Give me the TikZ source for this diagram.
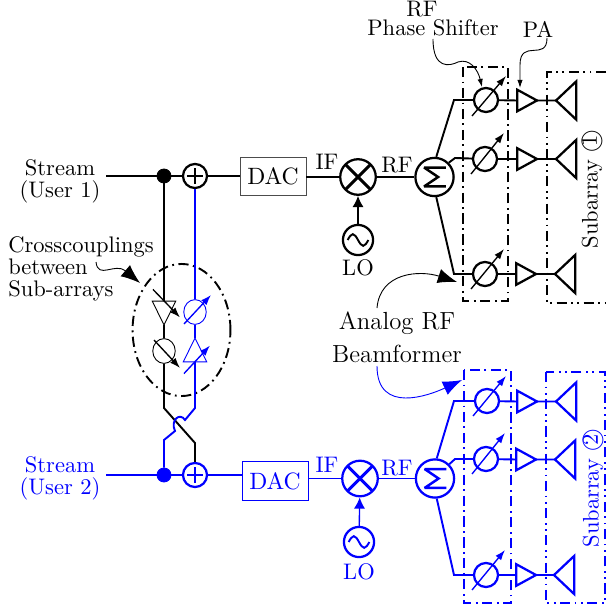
\documentclass[tikz,border=0pt]{standalone}
\usepackage{amssymb}
\usetikzlibrary{arrows.meta,shapes.geometric}
\tikzset{
  sig/.style={line width=0.85pt},
  ring/.style={line width=1pt},
  thinl/.style={line width=0.4pt},
  lab/.style={font=\fontsize{10}{9.8}\selectfont, align=center, inner sep=0pt},
  dotn/.style={circle, fill, draw, inner sep=0pt, minimum size=6.2pt},
  adder/.style={circle, draw, ring, inner sep=0pt, minimum size=10.7pt, path picture={
    \draw[line width=1pt] ([xshift=-3.6pt]path picture bounding box.center) -- ([xshift=3.6pt]path picture bounding box.center);
    \draw[line width=1pt] ([yshift=-3.6pt]path picture bounding box.center) -- ([yshift=3.6pt]path picture bounding box.center);}},
  mixer/.style={circle, draw, ring, inner sep=0pt, minimum size=15.8pt, path picture={
    \draw[line width=1.3pt] (path picture bounding box.north west) -- (path picture bounding box.south east);
    \draw[line width=1.3pt] (path picture bounding box.north east) -- (path picture bounding box.south west);}},
  osc/.style={circle, draw, ring, inner sep=0pt, minimum size=13.4pt, path picture={
    \draw[sig] ([xshift=-4.6pt]path picture bounding box.center) sin ++(2.3pt,2.6pt) cos ++(2.3pt,-2.6pt) sin ++(2.3pt,-2.6pt) cos ++(2.3pt,2.6pt);}},
  split/.style={circle, draw, ring, inner sep=0pt, minimum size=17pt, path picture={
    \draw[line width=1.1pt, miter limit=3] ([shift={(5pt,-4.2pt)}]path picture bounding box.center) -- ++(-9.6pt,0pt) -- ++(6.2pt,4.2pt) -- ++(-6.2pt,4.2pt) -- ++(9.6pt,0pt);}},
  pshift/.style={circle, draw, ring, inner sep=0pt, minimum size=10.7pt},
  pshiftc/.style={ellipse, draw, thinl, inner sep=0pt, minimum width=10pt, minimum height=11pt},
  tune/.style={line width=0.6pt, -{Latex[length=4.6pt,width=3.2pt]}},
  pa/.style={isosceles triangle, isosceles triangle stretches, draw, ring, inner sep=0pt, outer sep=0pt, minimum width=9.6pt, minimum height=8.8pt, anchor=apex},
  ant/.style={isosceles triangle, isosceles triangle stretches, shape border rotate=180, draw, ring, inner sep=0pt, outer sep=0pt, minimum width=17pt, minimum height=9pt, anchor=apex},
  tric/.style={isosceles triangle, isosceles triangle stretches, draw, thinl, inner sep=0pt, outer sep=0pt, minimum width=10.4pt, minimum height=10.6pt, anchor=apex},
  dacbox/.style={draw, thinl, font=\fontsize{10.5}{12}\selectfont, minimum width=29.3pt, minimum height=17.2pt, inner sep=0pt},
  note/.style={thinl, -{Latex[length=3.6pt,width=2.4pt]}},
  bignote/.style={thinl, -{Latex[length=8.5pt,width=6.5pt]}},
  bfbox/.style={line width=0.7pt, dash pattern=on 4.5pt off 2pt on 0.8pt off 2pt},
  subbox/.style={line width=0.7pt, dash pattern=on 4.5pt off 2pt on 0.8pt off 2pt on 0.8pt off 2pt},
  lotip/.style={line width=0.6pt, -{Latex[length=5pt,width=5pt]}}
}
\begin{document}
\begin{tikzpicture}[x=0.4444pt, y=-0.4444pt]
  \useasboundingbox (0,0) rectangle (606,611);
  % chain of user 1
  \node[lab] (st1) at (60,181) {Stream\\(User 1)};
  \coordinate (in1) at (106,176);
  \node[dotn] (dt1) at (164,176) {};
  \node[adder] (ad1) at (195,176) {};
  \node[dacbox, draw=black!70] (dac1) at (273,176.5) {DAC};
  \node[mixer] (mx1) at (358,177) {};
  \node[split] (sp1) at (434.5,177) {};
  \node[osc] (lo1) at (358,240) {};
  \node[lab] (lot1) at (358,268) {LO};
  \node[lab] (if1) at (327,162) {IF};
  \node[lab] (rf1) at (397,165) {RF};
  \draw[sig] (in1) -- (dt1) -- (ad1) -- (dac1.west |- ad1);
  \draw[sig] (dac1.east |- mx1) -- (mx1) -- (sp1);
  \draw[lotip] (lo1) -- (mx1);
  % branches of user 1
  \coordinate (kn1) at (454,100);
  \coordinate (kn2) at (455,158);
  \coordinate (kn3) at (454,274);
  \node[pshift] (ps1) at (486,100) {};
  \node[pshift] (ps2) at (485,159) {};
  \node[pshift] (ps3) at (485,274) {};
  \node[pa] (pa1) at (537,100.5) {};
  \node[pa] (pa2) at (537,159) {};
  \node[pa] (pa3) at (536,274) {};
  \node[ant] (an1) at (556,100.5) {};
  \node[ant] (an2) at (556,159) {};
  \node[ant] (an3) at (555,274) {};
  \draw[sig] (sp1.85) -- (kn1) -- (ps1);
  \draw[sig] (sp1.45) -- (kn2) -- (ps2);
  \draw[sig] (sp1.275) -- (kn3) -- (ps3);
  \draw[sig] (ps1) -- (pa1.lower side) (pa1.apex) -- (an1.apex);
  \draw[sig] (ps2) -- (pa2.lower side) (pa2.apex) -- (an2.apex);
  \draw[sig] (ps3) -- (pa3.lower side) (pa3.apex) -- (an3.apex);
  \draw[tune] (ps1.center) ++(-14,16) -- ++(34,-40);
  \draw[tune] (ps2.center) ++(-14,15) -- ++(33,-41);
  \draw[tune] (ps3.center) ++(-14,15) -- ++(33,-40);
  \draw[bfbox] (463,67) rectangle (508,301);
  \draw[subbox] (606,72) -- (547,72) -- (547,303) -- (606,303);
  \node[lab, rotate=90] (sub1) at (592,189) {Subarray \textcircled{1}};
  % labels on top
  \node[lab] (rft) at (422,9) {RF};
  \node[lab] (phs) at (433,28) {Phase Shifter};
  \node[lab] (pat) at (538,29) {PA};
  \coordinate (phsa) at (433,39);
  \coordinate (phsb) at (482,87);
  \coordinate (pata) at (547,38);
  \coordinate (patb) at (520,88);
  \draw[note] (phsa) .. controls (433,70) and (450,66) .. (458,62) .. controls (470,58) and (478,70) .. (phsb);
  \draw[note] (pata) .. controls (547,62) and (520,38) .. (520,65) -- (patb);
  % analog beamformer labels
  \node[lab, font=\fontsize{11}{12}\selectfont] (ana) at (397,323) {Analog RF};
  \node[lab, font=\fontsize{11}{12}\selectfont] (bmf) at (397,354) {Beamformer};
  \coordinate (anaa) at (377,308);
  \coordinate (anab) at (457,282);
  \coordinate (bmfa) at (377,366);
  \coordinate (bmfb) at (462,380);
  \draw[bignote] (anaa) .. controls (380,272) and (420,270) .. (anab);
  \draw[bignote, blue] (bmfa) .. controls (377,415) and (430,395) .. (bmfb);
  % chain of user 2
  \begin{scope}[blue]
    \node[lab] (st2) at (60,478.5) {Stream\\(User 2)};
    \coordinate (in2) at (106,475);
    \node[dotn] (dt2) at (164,475) {};
    \node[adder] (ad2) at (195,475) {};
    \node[dacbox] (dac2) at (275,481) {DAC};
    \node[mixer] (mx2) at (360,478.5) {};
    \node[split] (sp2) at (435,478.5) {};
    \node[osc] (lo2) at (359,542) {};
    \node[lab] (lot2) at (359,572) {LO};
    \node[lab] (if2) at (327,465) {IF};
    \node[lab] (rf2) at (397,468) {RF};
    \draw[sig] (in2) -- (dt2) -- (ad2) -- (dac2.west |- ad2);
    \draw[sig] (dac2.east |- mx2) -- (mx2) -- (sp2);
    \draw[lotip] (lo2) -- (mx2);
    % branches of user 2
    \coordinate (kn4) at (454,401);
    \coordinate (kn5) at (455,459);
    \coordinate (kn6) at (454,575);
    \node[pshift] (ps4) at (487,401) {};
    \node[pshift] (ps5) at (486,459) {};
    \node[pshift] (ps6) at (486,575) {};
    \node[pa] (pa4) at (537,401.5) {};
    \node[pa] (pa5) at (536,459.5) {};
    \node[pa] (pa6) at (536,575) {};
    \node[ant] (an4) at (556,401.5) {};
    \node[ant] (an5) at (555,459.5) {};
    \node[ant] (an6) at (554,575) {};
    \draw[sig] (sp2.85) -- (kn4) -- (ps4);
    \draw[sig] (sp2.45) -- (kn5) -- (ps5);
    \draw[sig] (sp2.275) -- (kn6) -- (ps6);
    \draw[sig] (ps4) -- (pa4.lower side) (pa4.apex) -- (an4.apex);
    \draw[sig] (ps5) -- (pa5.lower side) (pa5.apex) -- (an5.apex);
    \draw[sig] (ps6) -- (pa6.lower side) (pa6.apex) -- (an6.apex);
    \draw[tune] (ps4.center) ++(-14,15) -- ++(33,-40);
    \draw[tune] (ps5.center) ++(-14,15) -- ++(33,-41);
    \draw[tune] (ps6.center) ++(-14,15) -- ++(33,-40);
    \draw[bfbox] (464,370) rectangle (511,603);
    \draw[subbox] (546,372) rectangle (605,603);
    \node[lab, rotate=90] (sub2) at (593,488) {Subarray \textcircled{2}};
  \end{scope}
  % crosscoupling
  \node[lab, align=left] (cross) at (81,269) {Crosscouplings\\between\\Sub-arrays};
  \coordinate (crsa) at (96,262);
  \coordinate (crsb) at (140,283);
  \draw[bignote] (crsa) .. controls (98,280) and (115,262) .. (crsb);
  \node[ellipse, draw, line width=0.85pt, dash pattern=on 4.5pt off 2pt on 0.8pt off 2pt, minimum width=43.5pt, minimum height=58.7pt, inner sep=0pt] (cpl) at (181.5,330) {};
  \node[tric, shape border rotate=-90] (cg1) at (164,325) {};
  \node[pshiftc] (cp1) at (164,351) {};
  \node[pshiftc, blue] (cp2) at (195,312) {};
  \node[tric, blue, shape border rotate=90] (cg2) at (195,338) {};
  \coordinate (xa1) at (164,408);
  \coordinate (xa2) at (195,443);
  \coordinate (xb1) at (195,408);
  \coordinate (xb2) at (185,420);
  \coordinate (xb3) at (175,431);
  \coordinate (xb4) at (164,440);
  \draw[sig] (dt1) -- (cg1.lower side);
  \draw[sig] (cg1.apex) -- (cp1);
  \draw[sig] (cp1) -- (xa1) -- (xa2) -- (ad2);
  \draw[sig, blue] (ad1) -- (cp2);
  \draw[sig, blue] (cp2) -- (cg2.apex);
  \draw[sig, blue] (cg2.lower side) -- (xb1) -- (xb2) .. controls (180,412) and (170,420) .. (xb3) -- (xb4) -- (dt2);
  \draw[tune] (cg1.center) ++(-11,-19) -- ++(27,28);
  \draw[tune] (cp1.center) ++(-10,-11) -- ++(26,28);
  \draw[tune, blue] (cp2.center) ++(-11,12) -- ++(27,-29);
  \draw[tune, blue] (cg2.center) ++(-11,19) -- ++(26,-28);
\end{tikzpicture}
\end{document}
